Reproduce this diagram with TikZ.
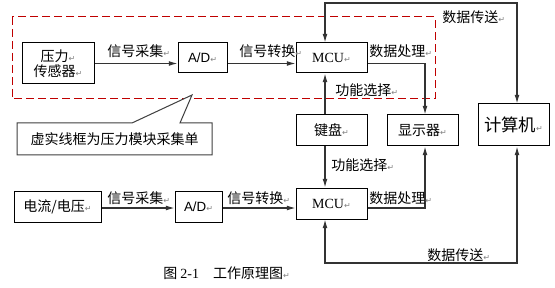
\documentclass[tikz,border=0pt]{standalone}
\usepackage{fontspec}
\setmainfont{Noto Sans CJK SC}
\newfontfamily\tmfont{Liberation Serif}
\newfontfamily\arfont{Liberation Sans}
\newfontfamily\dvfont{DejaVu Sans}
\usetikzlibrary{arrows.meta,calc}
\newcommand\parmk{{\dvfont\fontsize{6}{6}\selectfont\color{gray}↵}}
\begin{document}
\begin{tikzpicture}[x=0.75pt,y=-0.75pt,
  font=\fontsize{10.5}{12}\selectfont,
  box/.style={draw=black,line width=0.75pt,inner sep=0pt,align=center},
  conn/.style={draw=black!80,line width=0.8pt},
  tip/.style={-{Latex[length=6.5pt,width=3.6pt]}},
  twotip/.style={{Latex[length=6.5pt,width=3.6pt]}-{Latex[length=6.5pt,width=3.6pt]}},
  lbl/.style={anchor=west,inner sep=0pt},
  redbox/.style={draw=red!75!black,line width=0.75pt,dash pattern=on 6pt off 3pt}]
\useasboundingbox (0,0) rectangle (555,288);
\fill[white] (0,0) rectangle (555,288);

% red dashed frame
\draw[redbox] (12,17) rectangle (435,99);

% boxes
\node[box,minimum width=54pt,minimum height=30.75pt] (sensor) at (58,63.5) {压力\parmk\\[-1pt]传感器\parmk};
\node[box,minimum width=36.75pt,minimum height=22.5pt] (ad1) at (202.5,58) {\arfont\fontsize{10}{12}\selectfont A/D\parmk};
\node[box,minimum width=53.25pt,minimum height=22.5pt] (mcu1) at (331.5,58) {\tmfont MCU\parmk};
\node[box,minimum width=53.25pt,minimum height=23.25pt] (kbd) at (331.5,130.5) {键盘\parmk};
\node[box,minimum width=53.25pt,minimum height=23.25pt] (disp) at (422.5,130.5) {显示器\parmk};
\node[box,minimum width=53.25pt,minimum height=31.5pt,font=\fontsize{13}{15}\selectfont] (pc) at (513.5,125) {计算机\parmk};
\node[box,minimum width=65.25pt,minimum height=23.25pt] (src) at (57.5,206.5) {电流/电压\parmk};
\node[box,minimum width=35.25pt,minimum height=23.25pt] (ad2) at (198.5,206.5) {\arfont\fontsize{10}{12}\selectfont A/D\parmk};
\node[box,minimum width=53.25pt,minimum height=23.25pt] (mcu2) at (331.5,203.5) {\tmfont MCU\parmk};

% top row connectors
\draw[conn,tip] (sensor.east) -- (sensor.east -| ad1.west);
\draw[conn,tip] (sensor.east -| ad1.east) -- (sensor.east -| mcu1.west);
\coordinate (dp1) at ($(disp.north)+(2.5,0)$);
\draw[conn,tip] (sensor.east -| mcu1.east) -| (dp1);
\coordinate (k1) at ($(kbd.north)+(-6.5,0)$);
\coordinate (m1s) at ($(mcu1.south)+(-6.5,0)$);
\draw[conn,tip] (k1) -- (m1s);
\coordinate (m1n) at ($(mcu1.north)+(-6.5,0)$);
\coordinate (pcn) at ($(pc.north)+(3.5,0)$);
\coordinate (topc) at (0,3);
\draw[conn,twotip] (m1n) -- (m1n |- topc) -- (pcn |- topc) -- (pcn);

% bottom row connectors
\coordinate (srcr) at ($(src.east)+(0,1.5)$);
\draw[conn,tip] (srcr) -- (srcr -| ad2.west);
\draw[conn,tip] (srcr -| ad2.east) -- (srcr -| mcu2.west);
\coordinate (k2) at ($(kbd.south)+(-6.5,0)$);
\coordinate (m2n) at ($(mcu2.north)+(-6.5,0)$);
\draw[conn,tip] (k2) -- (m2n);
\coordinate (dp2) at ($(disp.south)+(2.5,0)$);
\draw[conn,tip] (srcr -| mcu2.east) -| (dp2);
\coordinate (m2s) at ($(mcu2.south)+(-6.5,0)$);
\coordinate (pcs) at ($(pc.south)+(3.5,0)$);
\coordinate (botc) at (0,263);
\draw[conn,twotip] (m2s) -- (m2s |- botc) -- (pcs |- botc) -- (pcs);

% labels
\node[lbl] (l1) at (107,51) {信号采集\parmk};
\node[lbl] (l2) at (239,51) {信号转换\parmk};
\node[lbl] (l3) at (369,51) {数据处理\parmk};
\node[lbl] (l4) at (335,90) {功能选择\parmk};
\node[lbl] (l5) at (442,17) {数据传送\parmk};
\node[lbl] (l6) at (107,198) {信号采集\parmk};
\node[lbl] (l7) at (227,198) {信号转换\parmk};
\node[lbl] (l8) at (331,165) {功能选择\parmk};
\node[lbl] (l9) at (369,198) {数据处理\parmk};
\node[lbl] (l10) at (427,255) {数据传送\parmk};

% callout
\draw[draw=black!75,line width=0.75pt,fill=white] (17,123) -- (132,123) -- (192,95) -- (180,123) -- (212,123) -- (212,155) -- (17,155) -- cycle;
\node[inner sep=0pt] (callout) at (114.5,139.5) {虚实线框为压力模块采集单};

% caption
\node[lbl,font=\fontsize{10.5}{12}\selectfont] (cap) at (163,273) {图 {\tmfont 2-1}\quad 工作原理图\parmk};
\end{tikzpicture}
\end{document}
